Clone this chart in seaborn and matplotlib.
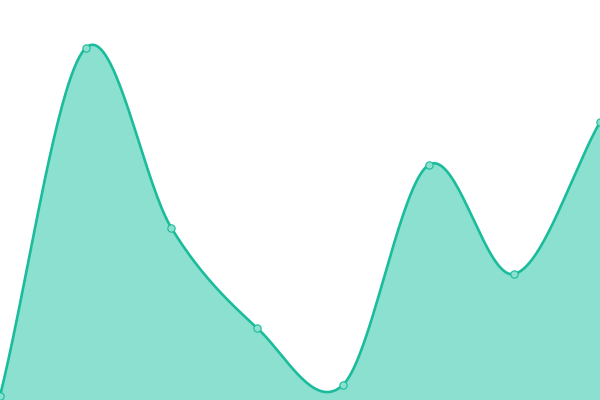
import numpy as np
import pandas as pd
import matplotlib
matplotlib.use("Agg")
import matplotlib.pyplot as plt
import seaborn as sns

# Data
steps = [0, 1, 2, 3, 4, 5, 6, 7]
values = [4, 352, 172, 72, 15, 235, 126, 278]

LINE = "#1abc9c"
FILL = "#8ce0cf"


def catmull_rom(x, y, n=40):
    # smooth path through the points (Catmull-Rom tangents, end tangents one-sided)
    x = np.asarray(x, float)
    y = np.asarray(y, float)
    m = np.gradient(y, x)
    xs, ys = [], []
    for i in range(len(x) - 1):
        h = x[i + 1] - x[i]
        t = np.linspace(0, 1, n, endpoint=False)
        h00 = 2 * t**3 - 3 * t**2 + 1
        h10 = t**3 - 2 * t**2 + t
        h01 = -2 * t**3 + 3 * t**2
        h11 = t**3 - t**2
        xs.append(x[i] + t * h)
        ys.append(h00 * y[i] + h10 * h * m[i] + h01 * y[i + 1] + h11 * h * m[i + 1])
    xs.append([x[-1]])
    ys.append([y[-1]])
    return np.concatenate(xs), np.concatenate(ys)


sx, sy = catmull_rom(steps, values)
smooth = pd.DataFrame({"step": sx, "value": sy})
points = pd.DataFrame({"step": steps, "value": values})

sns.set_style("white")
fig = plt.figure(figsize=(6, 4), dpi=100)
ax = fig.add_axes([0, 0, 1, 1])

ax.fill_between(smooth["step"], smooth["value"], 0, color=FILL, linewidth=0)
sns.lineplot(data=smooth, x="step", y="value", color=LINE, linewidth=1.9, ax=ax)
sns.scatterplot(data=points, x="step", y="value", s=28, color=FILL,
                edgecolor=LINE, linewidth=0.8, zorder=5, ax=ax)

ax.set_xlim(steps[0], steps[-1])
ax.set_ylim(0, 400)
ax.axis("off")

fig.savefig("out.png", dpi=100)
